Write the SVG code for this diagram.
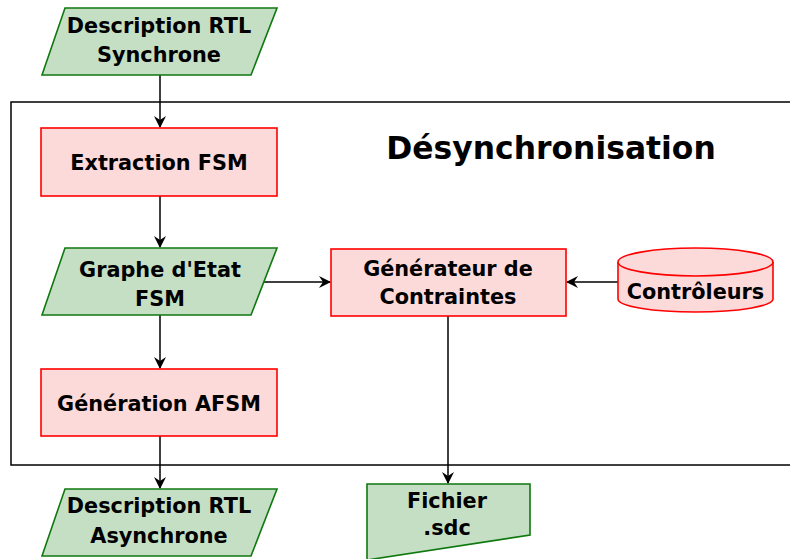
<svg xmlns="http://www.w3.org/2000/svg" width="790" height="559" viewBox="0 0 790 559">
  <style>
    .io { fill: #c5dfc4; stroke: #0f780f; stroke-width: 1.6; }
    .proc { fill: #fddada; stroke: #ff0000; stroke-width: 1.6; }
    .frame { fill: none; stroke: #000; stroke-width: 1.5; }
    .edge { fill: none; stroke: #000; stroke-width: 1.5; marker-end: url(#arrow); }
    text { font-family: "DejaVu Sans", "Liberation Sans", sans-serif; font-weight: bold; fill: #000; text-anchor: middle; }
    .lbl { font-size: 20.8px; }
    .title { font-size: 31.4px; }
  </style>
  <defs>
    <marker id="arrow" viewBox="0 0 12 12" markerWidth="12" markerHeight="12" refX="11" refY="6" orient="auto" markerUnits="userSpaceOnUse">
      <path d="M0,0 L12,6 L0,12 L4,6 z" fill="#000"/>
    </marker>
  </defs>

  <!-- process frame -->
  <g id="desynchronisation">
    <rect class="frame" x="11" y="102" width="800" height="363"/>
    <text class="title" x="551" y="159">Désynchronisation</text>
  </g>

  <g id="connectors">
    <line class="edge" x1="160" y1="75" x2="160" y2="127"/>
    <line class="edge" x1="160" y1="196" x2="160" y2="247"/>
    <line class="edge" x1="160" y1="315" x2="160" y2="368"/>
    <line class="edge" x1="160" y1="436" x2="160" y2="488"/>
    <line class="edge" x1="264" y1="282" x2="330" y2="282"/>
    <line class="edge" x1="618" y1="282" x2="567" y2="282"/>
    <line class="edge" x1="448" y1="316" x2="448" y2="483"/>
  </g>

  <g id="rtl-sync">
    <polygon class="io" points="65,8 277,8 251,75 42,75"/>
    <text class="lbl" x="159" y="33">Description RTL</text>
    <text class="lbl" x="159" y="62">Synchrone</text>
  </g>

  <g id="extraction-fsm">
    <rect class="proc" x="41" y="128" width="236" height="68"/>
    <text class="lbl" x="159" y="170">Extraction FSM</text>
  </g>

  <g id="graphe-etat">
    <polygon class="io" points="65,248 277,248 251,315 42,315"/>
    <text class="lbl" x="160" y="277">Graphe d'Etat</text>
    <text class="lbl" x="160" y="306">FSM</text>
  </g>

  <g id="generation-afsm">
    <rect class="proc" x="41" y="369" width="236" height="67"/>
    <text class="lbl" x="159" y="411">Génération AFSM</text>
  </g>

  <g id="rtl-async">
    <polygon class="io" points="65,489 277,489 251,556 42,556"/>
    <text class="lbl" x="159" y="513">Description RTL</text>
    <text class="lbl" x="159" y="543">Asynchrone</text>
  </g>

  <g id="generateur">
    <rect class="proc" x="331" y="249" width="235" height="67"/>
    <text class="lbl" x="448" y="276">Générateur de</text>
    <text class="lbl" x="448" y="304">Contraintes</text>
  </g>

  <g id="controleurs">
    <path class="proc" d="M618,262 A77.5,14 0 0 1 773,262 L773,299 A77.5,13 0 0 1 618,299 Z"/>
    <path class="proc" d="M618,262 A77.5,14 0 0 0 773,262" fill="none"/>
    <text class="lbl" x="695.5" y="299">Contrôleurs</text>
  </g>

  <g id="fichier-sdc">
    <polygon class="io" points="367,484 530,484 530,535 367,560"/>
    <text class="lbl" x="447" y="508">Fichier</text>
    <text class="lbl" x="447" y="535">.sdc</text>
  </g>
</svg>
